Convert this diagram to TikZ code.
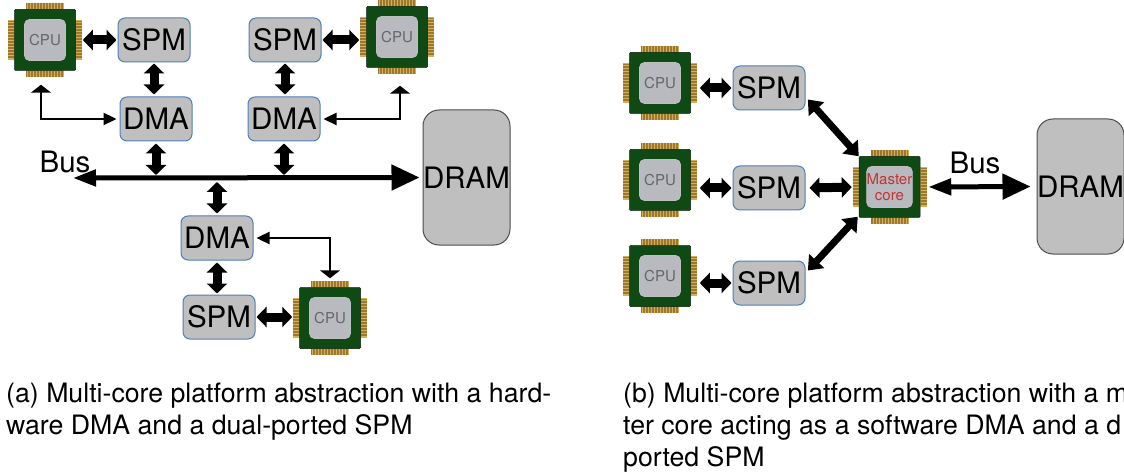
\documentclass[tikz,border=0pt]{standalone}
\usepackage{fontspec}
\setmainfont{TeX Gyre Heros}
\usetikzlibrary{arrows.meta,positioning}

\definecolor{chipgreen}{HTML}{0F4A14}
\definecolor{chipgray}{HTML}{B9BAC0}
\definecolor{pingold}{HTML}{D8AE58}
\definecolor{pinbrown}{HTML}{9A7830}
\definecolor{memgray}{HTML}{BFBFBF}
\definecolor{memblue}{HTML}{4F7FB8}

\tikzset{
	mem/.style={draw=memblue, fill=memgray, line width=1pt, rounded corners=7pt, minimum width=72pt, minimum height=44pt, inner sep=0pt, font=\fontsize{29.5}{31}\selectfont},
	dram/.style={draw=black!70, fill=memgray, line width=1pt, rounded corners=16pt, minimum width=87pt, minimum height=135pt, inner sep=0pt, font=\fontsize{29.5}{31}\selectfont},
	buslabel/.style={inner sep=0pt, font=\fontsize{29.5}{31}\selectfont},
	caption/.style={inner sep=0pt, anchor=north west, align=left, font=\fontsize{26.7}{32}\selectfont},
	bigarrow/.style={line width=9pt, <->, >={Triangle[length=10pt,width=20pt]}},
	diagarrow/.style={line width=7pt, <->, >={Triangle[length=13pt,width=20pt]}},
	busarrow/.style={line width=5pt, {Triangle[length=23pt,width=16pt]}-{Triangle[length=28pt,width=25pt]}},
	thinarrow/.style={line width=2.3pt, {Triangle[length=8pt,width=20pt]}-{Triangle[length=13pt,width=12pt]}},
	chipbody/.style={fill=chipgreen, draw=black!60!chipgreen, line width=.5pt, rounded corners=1pt, minimum size=61pt, inner sep=0pt},
	chipface/.style={fill=chipgray, draw=black!25, line width=.8pt, rounded corners=5pt, minimum size=41pt, inner sep=0pt, align=center, font=\fontsize{15}{16}\selectfont}
}

% chip: name, position, colour of the label, label
\newcommand{\chip}[4]{
	\begin{scope}[shift={(#2)}]
		\fill [pingold] (-19,-37) rectangle (19,-30);
		\fill [pingold] (-19,30) rectangle (19,37);
		\fill [pingold] (-37,-20) rectangle (-30,20);
		\fill [pingold] (30,-20) rectangle (37,20);
		\foreach \k in {-18.5,-17,...,18.5} {
			\draw [pinbrown, line width=.4pt] (\k,-37) -- (\k,-31);
			\draw [pinbrown, line width=.4pt] (\k,31) -- (\k,37);
			\draw [pinbrown, line width=.4pt] (-37,\k) -- (-31,\k);
			\draw [pinbrown, line width=.4pt] (31,\k) -- (37,\k);
		}
		\node [chipbody] (#1) at (0,0) {};
		\node [chipface, text=#3] (#1face) at (0,0) {#4};
	\end{scope}
}

\begin{document}
\begin{tikzpicture}[x=1pt, y=-1pt]
	\clip (0,0) rectangle (1124,473);

	% left platform
	\chip{cpua}{45,40}{black!60}{CPU}
	\chip{cpub}{397,37}{black!60}{CPU}
	\chip{cpuc}{330,318}{black!60}{CPU}
	\node [mem] (spma) at (154,40) {SPM};
	\node [mem] (dmaa) at (156,119) {DMA};
	\node [mem] (spmb) at (285,40) {SPM};
	\node [mem] (dmab) at (284,119) {DMA};
	\node [mem] (dmac) at (217,238) {DMA};
	\node [mem] (spmc) at (219,317) {SPM};
	\node [dram] (drama) at (466.5,177.5) {DRAM};
	\coordinate (busa) at (73,178);
	\node [buslabel] (busaname) at (65,162) {Bus};

	\draw [busarrow, shorten >=3pt] (busa) -- (drama.west);
	\draw [bigarrow, shorten <=7pt, shorten >=1pt] (cpua.east) -- (spma.west);
	\draw [bigarrow, shorten <=1pt, shorten >=7pt] (spmb.east) -- (cpub.west |- spmb.east);
	\draw [bigarrow, shorten <=1pt, shorten >=7pt] (spmc.east) -- (cpuc.west |- spmc.east);
	\draw [bigarrow, shorten <=1pt, shorten >=2pt] (spma.south) -- (spma.south |- dmaa.north);
	\draw [bigarrow, shorten <=1pt, shorten >=2pt] (spmb.south) -- (spmb.south |- dmab.north);
	\draw [bigarrow, shorten <=2pt, shorten >=1pt] (dmac.south) -- (dmac.south |- spmc.north);
	\draw [bigarrow, shorten <=2pt, shorten >=3pt] (dmaa.south) -- (dmaa.south |- busa);
	\draw [bigarrow, shorten <=2pt, shorten >=3pt] (dmab.south) -- (dmab.south |- busa);
	\draw [bigarrow, shorten <=2pt, shorten >=4pt] (dmac.north) -- (dmac.north |- busa);
	\draw [thinarrow, shorten <=14pt, shorten >=3pt] ([xshift=-4pt]cpua.south) |- (dmaa.west);
	\draw [thinarrow, shorten <=18pt, shorten >=3pt] ([xshift=3pt]cpub.south) |- (dmab.east);
	\draw [thinarrow, shorten <=9pt, shorten >=3pt] (cpuc.north) |- (dmac.east);

	% right platform
	\chip{cpud}{660,83}{black!60}{CPU}
	\chip{cpue}{660,180}{black!60}{CPU}
	\chip{cpuf}{660,276}{black!60}{CPU}
	\chip{master}{889.5,187}{red!70!black!80}{Master\\core}
	\node [mem] (spmd) at (769,88) {SPM};
	\node [mem] (spme) at (769,188) {SPM};
	\node [mem] (spmf) at (769,283) {SPM};
	\node [dram] (dramb) at (1080.5,186.5) {DRAM};
	\node [buslabel] (busbname) at (975,163) {Bus};

	\draw [bigarrow, shorten <=9pt, shorten >=1pt] (cpud.east |- spmd.west) -- (spmd.west);
	\draw [bigarrow, shorten <=9pt, shorten >=1pt] (cpue.east |- spme.west) -- (spme.west);
	\draw [bigarrow, shorten <=9pt, shorten >=1pt] (cpuf.east |- spmf.west) -- (spmf.west);
	\draw [bigarrow, shorten <=4pt, shorten >=7pt] (spme.east) -- (master.west);
	\draw [diagarrow, shorten <=2pt, shorten >=0pt] ([shift={(1,10)}]spmd.east) -- (master.north west);
	\draw [diagarrow, shorten <=2pt, shorten >=0pt] ([shift={(1,-11)}]spmf.east) -- ([shift={(-1,-1)}]master.south west);
	\draw [busarrow, shorten <=8pt, shorten >=6pt] (master.east) -- (dramb.west);

	% captions
	\node [caption] (capa) at (6,383) {(a) Multi-core platform abstraction with a hard-\\ware DMA and a dual-ported SPM};
	\node [caption] (capb) at (623,383) {(b) Multi-core platform abstraction with a m\\ter core acting as a software DMA and a d\\ported SPM};
\end{tikzpicture}
\end{document}
